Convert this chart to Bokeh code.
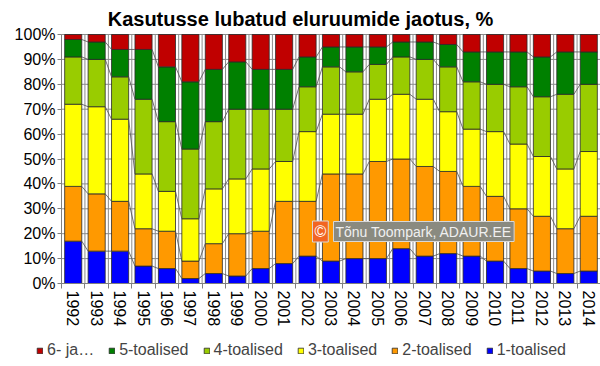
from bokeh.plotting import figure
from bokeh.models import FixedTicker, Legend, LegendItem, Label, ColumnDataSource
from bokeh.embed import file_html
from bokeh.resources import INLINE

years = [str(y) for y in range(1992, 2015)]
one_room = [17, 13, 13, 7, 6, 2, 4, 3, 6, 8, 11, 9, 10, 10, 14, 11, 12, 11, 9, 6, 5, 4, 5]
two_room = [22, 23, 20, 15, 15, 7, 12, 17, 15, 25, 22, 35, 34, 39, 36, 36, 33, 28, 26, 24, 22, 18, 22]
three_room = [33, 35, 33, 22, 16, 17, 22, 22, 25, 16, 28, 24, 24, 25, 26, 27, 24, 23, 26, 26, 24, 24, 26]
four_room = [19, 19, 17, 30, 28, 28, 27, 28, 24, 21, 18, 19, 17, 14, 15, 16, 18, 19, 19, 23, 24, 30, 27]
five_room = [7, 7, 11, 20, 22, 27, 21, 19, 16, 16, 12, 8, 10, 7, 6, 7, 9, 12, 13, 14, 16, 17, 13]
six_plus = [2, 3, 6, 6, 13, 19, 14, 11, 14, 14, 9, 5, 5, 5, 3, 3, 4, 7, 7, 7, 9, 7, 7]

series = [one_room, two_room, three_room, four_room, five_room, six_plus]
names = ["1-toalised", "2-toalised", "3-toalised", "4-toalised", "5-toalised", "6- ja…"]
colors = ["#0000FF", "#FF9900", "#FFFF00", "#99CC00", "#008000", "#C00000"]
y_ticks = list(range(0, 101, 10))
title_text = "Kasutusse lubatud eluruumide jaotus, %"
watermark = "Tõnu Toompark, ADAUR.EE"

FONT = "Liberation Sans"
n = len(years)
xs = list(range(n))
bar_w = 0.73

# The frame covers the whole canvas so that title, labels and legend are not
# clipped; the axes are pinned at x=-0.5 and y=0.
W, H = 600, 366
PLOT_L, PLOT_T, PLOT_B = 61, 34, 283     # pixel position of category edge / 100 % / 0 %
px_x = (W - PLOT_L) / n                  # pixels per category
px_y = (PLOT_B - PLOT_T) / 100.0         # pixels per percent
x_start = -0.5 - PLOT_L / px_x
y_start = -(H - PLOT_B) / px_y
y_end = 100 + PLOT_T / px_y

p = figure(width=W, height=H, x_range=(x_start, n - 0.5), y_range=(y_start, y_end),
           output_backend="svg", toolbar_location=None, title=None,
           min_border_left=0, min_border_right=0, min_border_top=0, min_border_bottom=0)
p.outline_line_color = None
p.background_fill_color = "white"
p.xgrid.visible = False
p.ygrid.visible = False

# grid lines (only over the plotting area)
boundaries = [i - 0.5 for i in range(n + 1)]
p.segment(x0=boundaries, y0=[0] * len(boundaries), x1=boundaries, y1=[100] * len(boundaries),
          line_color="#8c8c8c", line_width=1)
p.segment(x0=[-0.5] * len(y_ticks), y0=y_ticks, x1=[n - 0.5] * len(y_ticks), y1=y_ticks,
          line_color="#8c8c8c", line_width=1)

# stacked bars
bottoms = [0] * n
renderers = []
cums = []
for vals, name, col in zip(series, names, colors):
    tops = [b + v for b, v in zip(bottoms, vals)]
    src = ColumnDataSource(dict(x=xs, bottom=bottoms, top=tops))
    r = p.vbar(x="x", bottom="bottom", top="top", width=bar_w, source=src,
               fill_color=col, line_color="#2a2a2a", line_width=0.8)
    renderers.append(r)
    cums.append(tops)
    bottoms = tops

# series lines
for tops in cums[:-1]:
    x0 = [i + bar_w / 2 for i in range(n - 1)]
    x1 = [i + 1 - bar_w / 2 for i in range(n - 1)]
    p.segment(x0=x0, y0=tops[:-1], x1=x1, y1=tops[1:], line_color="#505050", line_width=0.8)

# axes
xa = p.xaxis[0]
xa.fixed_location = 0
xa.bounds = (-0.5, n - 0.5)
xa.ticker = FixedTicker(ticks=xs, minor_ticks=boundaries)
xa.major_label_overrides = {i: y for i, y in enumerate(years)}
xa.major_label_orientation = "vertical"
xa.major_tick_out = 0
xa.major_tick_in = 0
xa.minor_tick_out = 5
xa.minor_tick_in = 0
xa.major_label_standoff = 2

ya = p.yaxis[0]
ya.fixed_location = -0.5
ya.bounds = (0, 100)
ya.ticker = FixedTicker(ticks=y_ticks)
ya.major_label_overrides = {t: f"{t}%" for t in y_ticks}
ya.major_tick_out = 4
ya.major_tick_in = 0
ya.minor_tick_out = 0
ya.minor_tick_in = 0
ya.major_label_standoff = 2

for ax in (xa, ya):
    ax.axis_line_color = "#808080"
    ax.major_tick_line_color = "#808080"
    ax.minor_tick_line_color = "#808080"
    ax.major_label_text_font = FONT
    ax.major_label_text_font_size = "16px"
    ax.major_label_text_color = "black"

# title
p.add_layout(Label(x=300, y=H - 18, x_units="screen", y_units="screen", text=title_text,
                   text_font=FONT, text_font_size="20px", text_font_style="bold",
                   text_color="black", text_align="center", text_baseline="middle"))

# legend
items = [LegendItem(label=names[k], renderers=[renderers[k]]) for k in range(5, -1, -1)]
legend = Legend(items=items, location=(36, 7), orientation="horizontal",
                padding=0, margin=0, spacing=14, label_standoff=4,
                glyph_width=7, glyph_height=7,
                label_text_font=FONT, label_text_font_size="16px",
                border_line_color=None, background_fill_alpha=0)
p.add_layout(legend)

# watermark
wm_c = Label(x=312, y=135, x_units="screen", y_units="screen", text="©",
             text_font=FONT, text_font_size="16px", text_color="white",
             text_baseline="middle", text_align="left",
             background_fill_color="#F26522", padding=2,
             border_line_color="#d8d8d8", border_line_width=1)
wm_t = Label(x=333, y=135, x_units="screen", y_units="screen", text=watermark,
             text_font=FONT, text_font_size="14px", text_color="#f0f0f0",
             text_baseline="middle", text_align="left",
             background_fill_color="#8a8a80", padding=2,
             border_line_color="#d8d8d8", border_line_width=1)
p.add_layout(wm_t)
p.add_layout(wm_c)

open("out.html", "w").write(file_html(p, INLINE))
